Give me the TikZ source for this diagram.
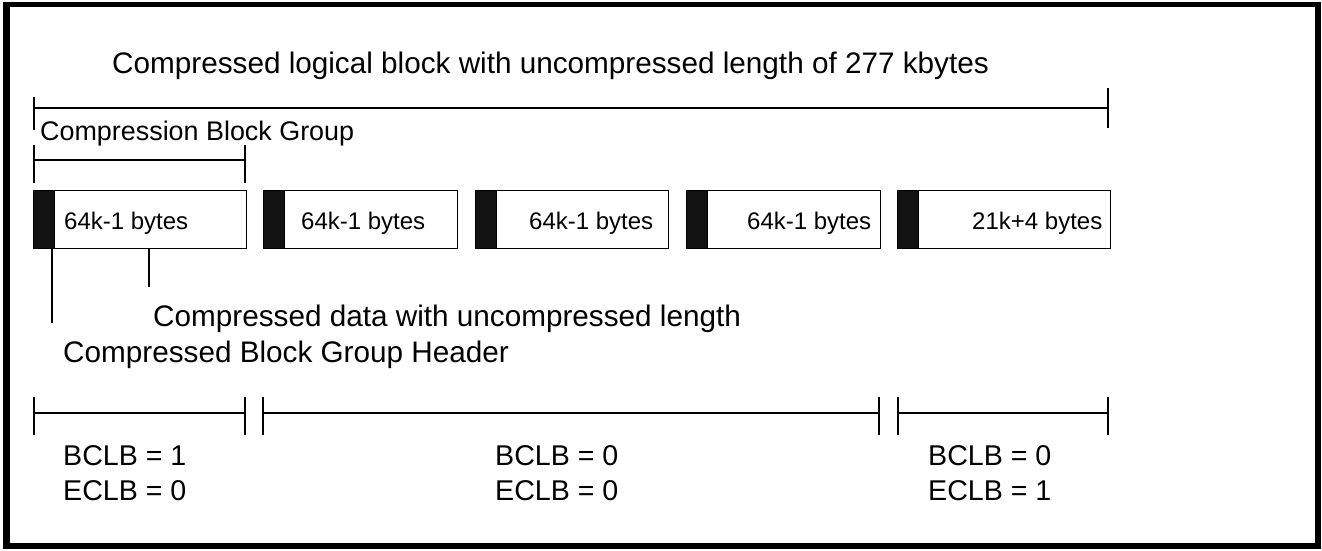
\documentclass[tikz,border=0pt]{standalone}
\usepackage{fontspec}
\setmainfont{Liberation Sans}
\begin{document}
\begin{tikzpicture}[x=1pt,y=-1pt,
  rule/.style={line width=1.3pt, black},
  blockbox/.style={draw, line width=1.4pt, rectangle, inner sep=0pt,
    minimum height=58pt, anchor=north west},
  hdrbox/.style={fill=black!93, draw=black, line width=1pt, rectangle, inner sep=0pt,
    minimum width=21pt, minimum height=58pt, anchor=north west},
  biglabel/.style={inner sep=0pt, anchor=base west, font=\fontsize{29.7}{33}\selectfont},
  midlabel/.style={inner sep=0pt, anchor=base west, font=\fontsize{26.9}{30}\selectfont},
  boxlabel/.style={inner sep=0pt, anchor=base west, font=\fontsize{24}{28}\selectfont},
  flaglabel/.style={inner sep=0pt, anchor=base west, font=\fontsize{28.6}{33}\selectfont}]

% page frame
\useasboundingbox (0,0) rectangle (1322,550);
\fill[black] (3,2) rectangle (1321,549);
\fill[white] (10,7) rectangle (1315,543);

% overall logical block span (y grows downwards, so upward shifts are positive)
\node[biglabel] (title) at (112,73) {Compressed logical block with uncompressed length of 277 kbytes};
\coordinate (lbL) at (34,108);
\coordinate (lbR) at (1108,108);
\draw[rule] (lbL) -- (lbR);
\draw[rule] ([yshift=11pt]lbL) -- ([yshift=-22pt]lbL);
\draw[rule] ([yshift=20pt]lbR) -- ([yshift=-20pt]lbR);

% compression block group span
\node[midlabel] (cbg) at (40,140) {Compression Block Group};
\coordinate (cgL) at (34,160);
\coordinate (cgR) at (245,160);
\draw[rule] (cgL) -- (cgR);
\foreach \c in {cgL,cgR}
  \draw[rule] ([yshift=15pt]\c) -- ([yshift=-23pt]\c);

% compressed blocks, each with its header
\node[blockbox, minimum width=213pt] (b1) at (33,190) {};
\node[blockbox, minimum width=194pt] (b2) at (263,190) {};
\node[blockbox, minimum width=193pt] (b3) at (475,190) {};
\node[blockbox, minimum width=194pt] (b4) at (686,190) {};
\node[blockbox, minimum width=213pt] (b5) at (897,190) {};
\foreach \b in {b1,b2,b3,b4,b5}
  \node[hdrbox] (h\b) at (\b.north west) {};

\node[boxlabel] (t1) at (64,229) {64k-1 bytes};
\node[boxlabel] (t2) at (301,229) {64k-1 bytes};
\node[boxlabel] (t3) at (529,229) {64k-1 bytes};
\node[boxlabel] (t4) at (747,229) {64k-1 bytes};
\node[boxlabel] (t5) at (972,229) {21k+4 bytes};

% callouts
\node[biglabel] (datalbl) at (153,326) {Compressed data with uncompressed length};
\node[biglabel] (hdrlbl) at (63,362) {Compressed Block Group Header};
\coordinate (hdrtop) at (52,248);
\coordinate (hdrend) at (52,323);
\coordinate (datatop) at (149,248);
\coordinate (dataend) at (149,287);
\draw[rule] (hdrtop) -- (hdrend);
\draw[rule] (datatop) -- (dataend);

% BCLB / ECLB spans
\coordinate (s1L) at (34,413);  \coordinate (s1R) at (245,413);
\coordinate (s2L) at (263,413); \coordinate (s2R) at (879,413);
\coordinate (s3L) at (898,413); \coordinate (s3R) at (1108,413);
\foreach \s in {s1,s2,s3}{
  \draw[rule] (\s L) -- (\s R);
  \draw[rule] ([yshift=16pt]\s L) -- ([yshift=-22pt]\s L);
  \draw[rule] ([yshift=16pt]\s R) -- ([yshift=-22pt]\s R);
}

\node[flaglabel] (f1a) at (63,465) {BCLB = 1};
\node[flaglabel] (f1b) at (63,500) {ECLB = 0};
\node[flaglabel] (f2a) at (495,465) {BCLB = 0};
\node[flaglabel] (f2b) at (495,500) {ECLB = 0};
\node[flaglabel] (f3a) at (928,465) {BCLB = 0};
\node[flaglabel] (f3b) at (928,500) {ECLB = 1};
\end{tikzpicture}
\end{document}
